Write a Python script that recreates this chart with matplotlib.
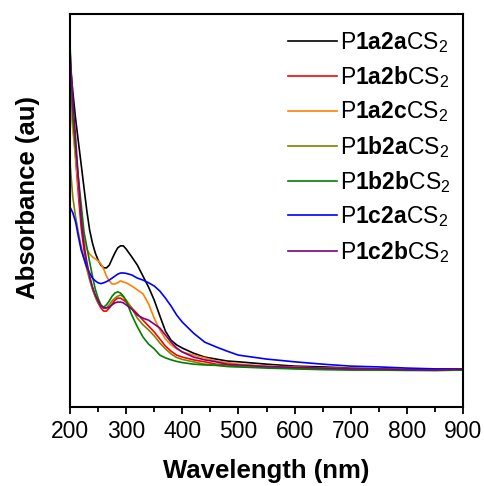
import matplotlib
matplotlib.use("Agg")
import matplotlib.pyplot as plt
from matplotlib.ticker import MultipleLocator, NullLocator

plt.rcParams["font.family"] = ["Liberation Sans", "DejaVu Sans"]
plt.rcParams["mathtext.fontset"] = "custom"
plt.rcParams["mathtext.rm"] = "Liberation Sans"
plt.rcParams["mathtext.bf"] = "Liberation Sans:bold"
plt.rcParams["mathtext.it"] = "Liberation Sans:italic"

# Wavelength grid (nm)
wavelength = [200, 205, 210, 215, 220, 225, 230, 235, 240, 245, 250, 255, 260, 265,
              270, 275, 280, 285, 290, 295, 300, 310, 320, 330, 340, 350, 360, 370,
              380, 390, 400, 420, 440, 460, 480, 500, 550, 600, 650, 700, 750, 800,
              850, 900]

# Absorbance (a.u.) of each polymer sample
abs_1a2a = [0.880, 0.802, 0.733, 0.674, 0.616, 0.557, 0.499, 0.450, 0.417, 0.392,
            0.374, 0.361, 0.354, 0.354, 0.361, 0.377, 0.392, 0.405, 0.410, 0.410,
            0.402, 0.382, 0.361, 0.333, 0.305, 0.272, 0.232, 0.193, 0.170, 0.158,
            0.150, 0.137, 0.127, 0.122, 0.117, 0.115, 0.109, 0.104, 0.102, 0.099,
            0.097, 0.095, 0.094, 0.094]
abs_1a2b = [0.814, 0.723, 0.631, 0.539, 0.455, 0.399, 0.359, 0.328, 0.303, 0.282,
            0.265, 0.252, 0.244, 0.244, 0.252, 0.262, 0.272, 0.277, 0.277, 0.272,
            0.267, 0.252, 0.237, 0.221, 0.206, 0.191, 0.173, 0.155, 0.142, 0.132,
            0.127, 0.120, 0.115, 0.109, 0.107, 0.104, 0.102, 0.099, 0.098, 0.097,
            0.095, 0.094, 0.094, 0.094]
abs_1a2c = [0.794, 0.705, 0.634, 0.557, 0.486, 0.425, 0.402, 0.389, 0.382, 0.377,
            0.372, 0.364, 0.351, 0.333, 0.321, 0.313, 0.313, 0.316, 0.321, 0.318,
            0.316, 0.308, 0.298, 0.288, 0.262, 0.226, 0.196, 0.173, 0.158, 0.148,
            0.140, 0.132, 0.125, 0.117, 0.113, 0.109, 0.104, 0.102, 0.099, 0.098,
            0.097, 0.095, 0.094, 0.094]
abs_1b2a = [0.621, 0.534, 0.483, 0.443, 0.407, 0.377, 0.351, 0.323, 0.300, 0.280,
            0.265, 0.257, 0.252, 0.252, 0.260, 0.270, 0.277, 0.282, 0.285, 0.280,
            0.272, 0.252, 0.226, 0.209, 0.196, 0.181, 0.163, 0.148, 0.135, 0.126,
            0.121, 0.115, 0.109, 0.107, 0.104, 0.103, 0.101, 0.098, 0.097, 0.095,
            0.094, 0.094, 0.093, 0.094]
abs_1b2b = [0.924, 0.735, 0.654, 0.583, 0.514, 0.445, 0.407, 0.369, 0.333, 0.300,
            0.277, 0.260, 0.254, 0.260, 0.270, 0.282, 0.290, 0.293, 0.290, 0.282,
            0.270, 0.234, 0.204, 0.178, 0.160, 0.148, 0.132, 0.125, 0.120, 0.116,
            0.113, 0.109, 0.107, 0.106, 0.103, 0.102, 0.099, 0.097, 0.095, 0.094,
            0.094, 0.093, 0.093, 0.094]
abs_1c2a = [0.509, 0.494, 0.471, 0.433, 0.399, 0.377, 0.356, 0.341, 0.328, 0.321,
            0.316, 0.314, 0.316, 0.319, 0.323, 0.328, 0.333, 0.338, 0.341, 0.341,
            0.340, 0.336, 0.328, 0.323, 0.316, 0.308, 0.295, 0.277, 0.257, 0.234,
            0.216, 0.188, 0.165, 0.153, 0.142, 0.132, 0.122, 0.115, 0.109, 0.104,
            0.102, 0.099, 0.097, 0.097]
abs_1c2b = [0.908, 0.781, 0.684, 0.578, 0.476, 0.412, 0.369, 0.333, 0.305, 0.285,
            0.270, 0.257, 0.252, 0.252, 0.254, 0.260, 0.265, 0.267, 0.267, 0.265,
            0.260, 0.249, 0.234, 0.226, 0.221, 0.211, 0.201, 0.183, 0.165, 0.150,
            0.140, 0.127, 0.120, 0.115, 0.109, 0.107, 0.103, 0.101, 0.099, 0.097,
            0.097, 0.095, 0.094, 0.097]

series = [
    (abs_1a2a, r"P$\mathbf{1a2a}$CS$_2$", "#000000"),
    (abs_1a2b, r"P$\mathbf{1a2b}$CS$_2$", "#ff0000"),
    (abs_1a2c, r"P$\mathbf{1a2c}$CS$_2$", "#ff8000"),
    (abs_1b2a, r"P$\mathbf{1b2a}$CS$_2$", "#808000"),
    (abs_1b2b, r"P$\mathbf{1b2b}$CS$_2$", "#008000"),
    (abs_1c2a, r"P$\mathbf{1c2a}$CS$_2$", "#0000ff"),
    (abs_1c2b, r"P$\mathbf{1c2b}$CS$_2$", "#800080"),
]

fig = plt.figure(figsize=(4.85, 4.86), dpi=100)
ax = fig.add_axes([70 / 485, 1 - 407 / 486, 393 / 485, 393 / 486])

for values, label, color in series:
    ax.plot(wavelength, values, color=color, lw=1.2, label=label)

ax.set_xlim(200, 900)
ax.set_ylim(0, 1)
ax.xaxis.set_major_locator(MultipleLocator(100))
ax.xaxis.set_minor_locator(MultipleLocator(50))
ax.yaxis.set_major_locator(NullLocator())
ax.tick_params(axis="x", which="major", direction="out", length=5, width=1.3,
               labelsize=16.5, pad=4, top=False)
ax.tick_params(axis="x", which="minor", direction="out", length=3.5, width=1.3, top=False)
for sp in ax.spines.values():
    sp.set_linewidth(1.5)

ax.set_xlabel("Wavelength (nm)", fontsize=18.5, fontweight="bold", labelpad=12)
ax.set_ylabel("Absorbance (au)", fontsize=18.5, fontweight="bold")
ax.yaxis.set_label_coords(-0.076, 0.533)

leg = ax.legend(loc="upper left", bbox_to_anchor=(288 / 485, 1 - 30 / 486),
                bbox_transform=fig.transFigure, frameon=False, fontsize=16.5,
                handlelength=2.14, handletextpad=0.13, labelspacing=0.41,
                borderpad=0, borderaxespad=0)

fig.savefig("out.png", dpi=100)
